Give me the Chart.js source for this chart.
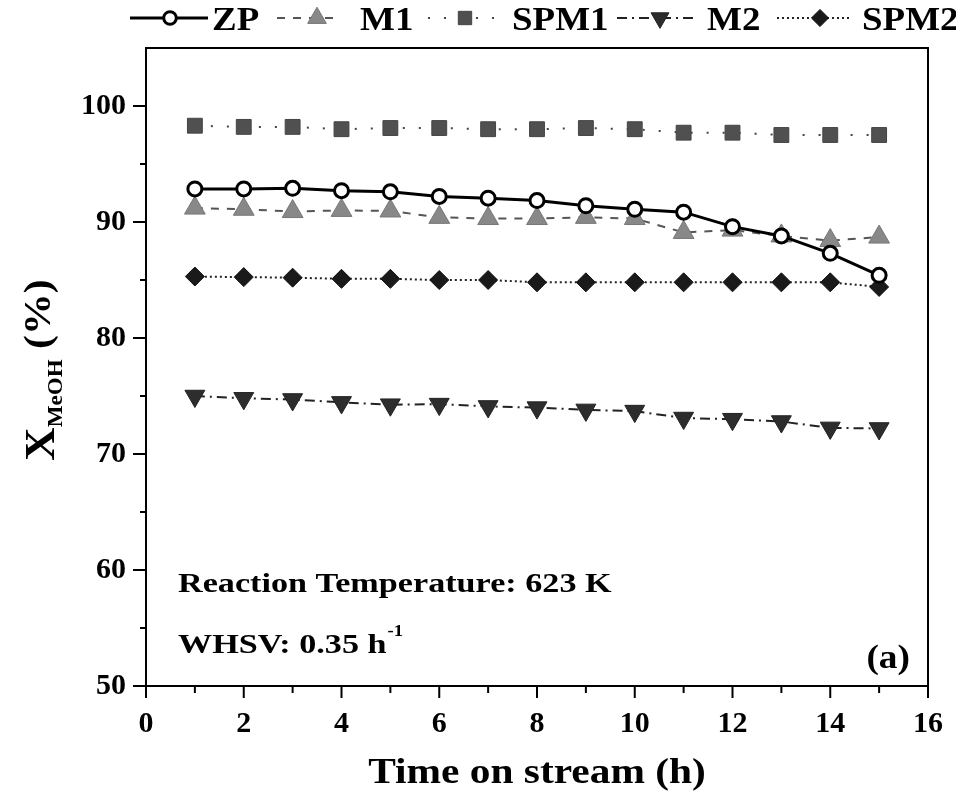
<!DOCTYPE html>
<html>
<head>
<meta charset="utf-8">
<title>Methanol conversion vs time on stream</title>
<script src="https://cdn.jsdelivr.net/npm/chart.js@4.4.0/dist/chart.umd.min.js"></script>
<style>
  html, body { margin: 0; padding: 0; background: #fff; }
  #wrap { width: 956px; height: 804px; }
</style>
</head>
<body>
<div id="wrap"><canvas id="chart" width="956" height="804"></canvas></div>
<script>
// Time on stream (h)
const hours = [1, 2, 3, 4, 5, 6, 7, 8, 9, 10, 11, 12, 13, 14, 15];

// Methanol conversion (%) per catalyst
const zp   = [92.85, 92.85, 92.9, 92.7, 92.6, 92.2, 92.05, 91.85, 91.4, 91.1, 90.85, 89.6, 88.8, 87.3, 85.4];
const m1   = [91.2, 91.1, 90.9, 91.0, 90.95, 90.4, 90.3, 90.3, 90.4, 90.3, 89.1, 89.3, 88.8, 88.4, 88.7];
const spm1 = [98.3, 98.2, 98.2, 98.0, 98.1, 98.1, 98.0, 98.0, 98.1, 98.0, 97.7, 97.7, 97.5, 97.5, 97.5];
const m2   = [75.0, 74.8, 74.7, 74.45, 74.25, 74.3, 74.1, 74.0, 73.8, 73.7, 73.1, 73.0, 72.8, 72.25, 72.2];
const spm2 = [85.3, 85.25, 85.2, 85.1, 85.1, 85.0, 85.0, 84.8, 84.8, 84.8, 84.8, 84.8, 84.8, 84.8, 84.4];

const seriesNames = ['ZP', 'M1', 'SPM1', 'M2', 'SPM2'];
const xTickValues = [0, 2, 4, 6, 8, 10, 12, 14, 16];
const yTickValues = [50, 60, 70, 80, 90, 100];

const SERIF = '"Liberation Serif", "Times New Roman", serif';

function pts(values) {
    return values.map((v, i) => ({ x: hours[i], y: v }));
}

// Bold serif text, stretched horizontally by sx
function wideText(ctx, text, x, y, size, align, sx) {
    ctx.save();
    ctx.font = 'bold ' + size + 'px ' + SERIF;
    ctx.textAlign = align || 'left';
    ctx.textBaseline = 'alphabetic';
    ctx.translate(x, y);
    ctx.scale(sx || 1.15, 1);
    ctx.fillText(text, 0, 0);
    ctx.restore();
}

const datasets = [
    {
        label: seriesNames[0], data: pts(zp),
        borderColor: '#000', borderWidth: 3, borderDash: [],
        pointStyle: 'circle', pointRadius: 7, pointBorderWidth: 3,
        pointBackgroundColor: '#fff', pointBorderColor: '#000'
    },
    {
        label: seriesNames[1], data: pts(m1),
        borderColor: '#555', borderWidth: 2, borderDash: [8, 8],
        pointStyle: 'triangle', pointRadius: 12, pointBorderWidth: 1,
        pointBackgroundColor: '#888', pointBorderColor: '#777'
    },
    {
        label: seriesNames[2], data: pts(spm1),
        borderColor: '#444', borderWidth: 2, borderDash: [2, 14],
        pointStyle: 'rect', pointRadius: 10.5, pointBorderWidth: 1,
        pointBackgroundColor: '#505050', pointBorderColor: '#444'
    },
    {
        label: seriesNames[3], data: pts(m2),
        borderColor: '#222', borderWidth: 2, borderDash: [10, 5, 2, 5],
        pointStyle: 'triangle', rotation: 180, pointRadius: 11.5, pointBorderWidth: 1,
        pointBackgroundColor: '#2d2d2d', pointBorderColor: '#222'
    },
    {
        label: seriesNames[4], data: pts(spm2),
        borderColor: '#222', borderWidth: 2, borderDash: [2, 3],
        pointStyle: 'rectRot', pointRadius: 9.5, pointBorderWidth: 1,
        pointBackgroundColor: '#1a1a1a', pointBorderColor: '#111'
    }
];

// Frame, tick marks, titles, legend and notes
const decorations = {
    id: 'decorations',
    afterDraw(chart) {
        const ctx = chart.ctx;
        const area = chart.chartArea;
        const xs = chart.scales.x;
        const ys = chart.scales.y;
        ctx.save();
        ctx.fillStyle = '#000';
        ctx.strokeStyle = '#000';

        // frame
        ctx.lineWidth = 2;
        ctx.strokeRect(area.left, area.top, area.right - area.left, area.bottom - area.top);

        // x ticks: majors every 2 h, minors in between
        for (let v = 0; v <= 16; v++) {
            const px = xs.getPixelForValue(v);
            const len = v % 2 === 0 ? 12 : 7;
            ctx.beginPath();
            ctx.moveTo(px, area.bottom);
            ctx.lineTo(px, area.bottom + len);
            ctx.stroke();
        }
        // y ticks: majors every 10 %, minors every 5 %
        for (let v = 50; v <= 100; v += 5) {
            const py = ys.getPixelForValue(v);
            const len = v % 10 === 0 ? 13 : 6;
            ctx.beginPath();
            ctx.moveTo(area.left, py);
            ctx.lineTo(area.left - len, py);
            ctx.stroke();
        }

        // x title
        wideText(ctx, 'Time on stream (h)', (area.left + area.right) / 2, 783, 36, 'center', 1.15);

        // y title: X with subscript MeOH, then (%)
        ctx.save();
        ctx.translate(54, 370);
        ctx.rotate(-Math.PI / 2);
        ctx.font = 'bold 42px ' + SERIF;
        const wX = ctx.measureText('X').width * 1.1;
        ctx.font = 'bold 21px ' + SERIF;
        const wSub = ctx.measureText('MeOH').width * 1.1;
        ctx.font = 'bold 38px ' + SERIF;
        const wPct = ctx.measureText(' (%)').width * 1.1;
        let cx = -(wX + wSub + wPct) / 2;
        wideText(ctx, 'X', cx, 0, 42, 'left', 1.1);
        cx += wX;
        wideText(ctx, 'MeOH', cx, 8, 21, 'left', 1.1);
        cx += wSub;
        wideText(ctx, ' (%)', cx, -4, 38, 'left', 1.1);
        ctx.restore();

        // notes inside the plot
        wideText(ctx, 'Reaction Temperature: 623 K', 178, 592, 28, 'left', 1.22);
        wideText(ctx, 'WHSV: 0.35 h', 178, 653, 28, 'left', 1.22);
        ctx.font = 'bold 28px ' + SERIF;
        const wWhsv = ctx.measureText('WHSV: 0.35 h').width * 1.22;
        wideText(ctx, '-1', 178 + wWhsv + 1, 636, 17, 'left', 1.1);
        wideText(ctx, '(a)', 910, 668, 34, 'right', 1.1);

        // legend: line sample with marker, then name
        const legendY = 18;
        const items = [
            { ds: 0, x0: 130, x1: 208, mx: 170, tx: 212 },
            { ds: 1, x0: 277, x1: 340, mx: 317, tx: 360 },
            { ds: 2, x0: 428, x1: 495, mx: 465, tx: 512 },
            { ds: 3, x0: 617, x1: 693, mx: 660, tx: 707 },
            { ds: 4, x0: 777, x1: 850, mx: 820, tx: 862 }
        ];
        items.forEach(it => {
            const d = chart.data.datasets[it.ds];
            ctx.save();
            ctx.strokeStyle = d.borderColor;
            ctx.lineWidth = d.borderWidth;
            ctx.setLineDash(d.borderDash);
            ctx.beginPath();
            ctx.moveTo(it.x0, legendY);
            ctx.lineTo(it.x1, legendY);
            ctx.stroke();
            ctx.restore();
            ctx.save();
            ctx.fillStyle = d.pointBackgroundColor;
            ctx.strokeStyle = d.pointBorderColor;
            ctx.lineWidth = d.pointBorderWidth;
            Chart.helpers.drawPoint(ctx, {
                pointStyle: d.pointStyle,
                rotation: d.rotation || 0,
                radius: d.pointRadius * 0.9,
                borderWidth: d.pointBorderWidth
            }, it.mx, legendY);
            ctx.restore();
            ctx.fillStyle = '#000';
            wideText(ctx, d.label, it.tx, legendY + 12, 33, 'left', 1.12);
        });

        ctx.restore();
    }
};

new Chart(document.getElementById('chart').getContext('2d'), {
    type: 'line',
    data: { datasets: datasets },
    options: {
        responsive: false,
        animation: false,
        devicePixelRatio: 1,
        layout: { padding: { top: 48, right: 28, left: 0, bottom: 0 } },
        plugins: {
            legend: { display: false },
            tooltip: { enabled: false }
        },
        elements: { line: { tension: 0, fill: false } },
        scales: {
            x: {
                type: 'linear',
                min: 0, max: 16,
                afterFit(scale) {
                    scale.height = 118;
                    scale.paddingLeft = 0;
                    scale.paddingRight = 0;
                },
                afterBuildTicks(scale) { scale.ticks = xTickValues.map(v => ({ value: v })); },
                grid: { display: false, drawTicks: false },
                border: { display: false },
                ticks: {
                    padding: 20,
                    color: '#000',
                    font: { family: SERIF, size: 30, weight: 'bold' },
                    maxRotation: 0
                }
            },
            y: {
                type: 'linear',
                min: 50, max: 105,
                afterFit(scale) {
                    scale.width = 146;
                    scale.paddingTop = 0;
                    scale.paddingBottom = 0;
                },
                afterBuildTicks(scale) { scale.ticks = yTickValues.map(v => ({ value: v })); },
                grid: { display: false, drawTicks: false },
                border: { display: false },
                ticks: {
                    padding: 20,
                    color: '#000',
                    font: { family: SERIF, size: 30, weight: 'bold' }
                }
            }
        }
    },
    plugins: [decorations]
});
</script>
</body>
</html>
